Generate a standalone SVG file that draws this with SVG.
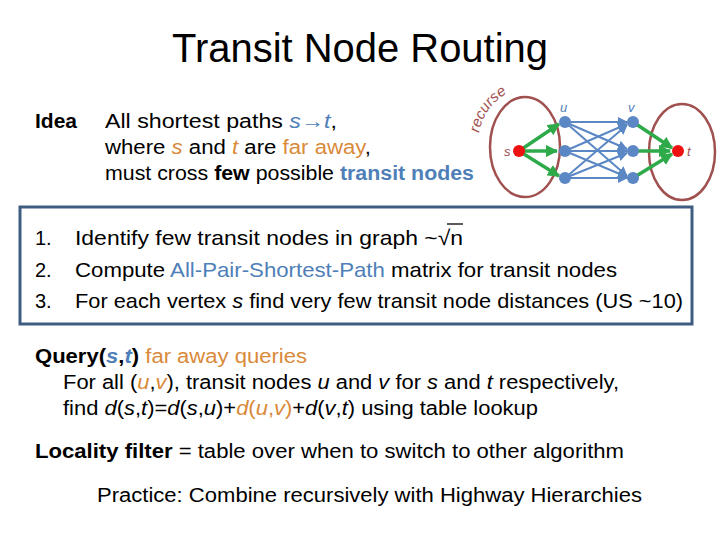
<svg xmlns="http://www.w3.org/2000/svg" width="720" height="540" viewBox="0 0 720 540">
<style>
text{font-family:"Liberation Sans","DejaVu Sans",sans-serif;fill:#000}
.b{fill:#4f7fb8}.o{fill:#d98a3a}.r{fill:#a0504f}
.e{fill:none;stroke:#a0504f;stroke-width:2.5}
.bl{stroke:#5b87c5;stroke-width:2}
.g{stroke:#2eaa4a;stroke-width:3.5}
</style>
<defs>
<marker id="ab" viewBox="0 0 10 10" refX="9" refY="5" markerWidth="5" markerHeight="5" orient="auto"><path d="M0,0L10,5L0,10z" fill="#5b87c5"/></marker>
<marker id="ag" viewBox="0 0 10 10" refX="9" refY="5" markerWidth="3.5" markerHeight="3.5" orient="auto"><path d="M0,0L10,5L0,10z" fill="#2eaa4a"/></marker>
<path id="arc" d="M479,133 A52,56 0 0 1 525,88"/>
</defs>
<rect width="720" height="540" fill="#fff"/>
<text x="172" y="62" font-size="40" textLength="376" lengthAdjust="spacingAndGlyphs">Transit Node Routing</text>
<g id="idea">
<text x="35" y="128" font-size="20" font-weight="bold" textLength="42" lengthAdjust="spacingAndGlyphs">Idea</text>
<text x="105" y="128" font-size="20" textLength="232" lengthAdjust="spacingAndGlyphs">All shortest paths <tspan class="b" font-style="italic">s→t</tspan>,</text>
<text x="105" y="154" font-size="20" textLength="266" lengthAdjust="spacingAndGlyphs">where <tspan class="o" font-style="italic">s</tspan> and <tspan class="o" font-style="italic">t</tspan> are <tspan class="o">far away</tspan>,</text>
<text x="105" y="180" font-size="20" textLength="369" lengthAdjust="spacingAndGlyphs">must cross <tspan font-weight="bold">few</tspan> possible <tspan class="b" font-weight="bold">transit nodes</tspan></text>
</g>
<g id="graph">
<ellipse class="e" cx="525" cy="147" rx="35" ry="50"/>
<ellipse class="e" cx="682" cy="152" rx="33" ry="48"/>
<text class="r" font-size="15" font-style="italic"><textPath href="#arc">recurse</textPath></text>
<g id="connectors">
<g class="bl" marker-end="url(#ab)">
<line x1="565" y1="122" x2="627" y2="122"/><line x1="565" y1="122" x2="627" y2="149"/><line x1="565" y1="122" x2="627" y2="176"/>
<line x1="565" y1="151" x2="627" y2="124"/><line x1="565" y1="151" x2="627" y2="151"/><line x1="565" y1="151" x2="627" y2="177"/>
<line x1="565" y1="178" x2="627" y2="125"/><line x1="565" y1="178" x2="627" y2="153"/><line x1="565" y1="178" x2="627" y2="178"/>
</g>
<g class="g" marker-end="url(#ag)">
<line x1="519" y1="151" x2="559" y2="124"/><line x1="519" y1="151" x2="557" y2="151"/><line x1="519" y1="151" x2="559" y2="176"/>
<line x1="633" y1="122" x2="672" y2="148"/><line x1="633" y1="151" x2="670" y2="151"/><line x1="633" y1="178" x2="672" y2="154"/>
</g>
</g>
<g fill="#5b87c5"><circle cx="565" cy="122" r="6"/><circle cx="565" cy="151" r="6"/><circle cx="565" cy="178" r="6"/><circle cx="633" cy="122" r="6"/><circle cx="633" cy="151" r="6"/><circle cx="633" cy="178" r="6"/></g>
<circle cx="519" cy="151" r="6" fill="#ee1111"/><circle cx="678" cy="151" r="6" fill="#ee1111"/>
<text class="r" x="504" y="156" font-size="13" font-style="italic">s</text>
<text class="r" x="687" y="156" font-size="13" font-style="italic">t</text>
<text class="b" x="560" y="112" font-size="13" font-style="italic">u</text>
<text class="b" x="628" y="112" font-size="13" font-style="italic">v</text>
</g>
<g id="steps">
<rect x="20" y="207" width="672" height="117" fill="#fff" stroke="#3f5d80" stroke-width="3"/>
<text x="35" y="245" font-size="20">1.</text><text x="35" y="277" font-size="20">2.</text><text x="35" y="308" font-size="20">3.</text>
<text x="75" y="245" font-size="21" textLength="388" lengthAdjust="spacingAndGlyphs">Identify few transit nodes in graph ~√n</text>
<line x1="447" y1="224" x2="463" y2="224" stroke="#000" stroke-width="1.3"/>
<text x="75" y="277" font-size="21" textLength="542" lengthAdjust="spacingAndGlyphs">Compute <tspan class="b">All-Pair-Shortest-Path</tspan> matrix for transit nodes</text>
<text x="75" y="308" font-size="21" textLength="608" lengthAdjust="spacingAndGlyphs">For each vertex <tspan font-style="italic">s</tspan> find very few transit node distances (US ~10)</text>
</g>
<g id="query">
<text x="35" y="363" font-size="20" textLength="272" lengthAdjust="spacingAndGlyphs"><tspan font-weight="bold">Query(<tspan class="b" font-style="italic">s</tspan>,<tspan class="b" font-style="italic">t</tspan>)</tspan>  <tspan class="o">far away queries</tspan></text>
<text x="63" y="389" font-size="20" textLength="556" lengthAdjust="spacingAndGlyphs">For all (<tspan class="o" font-style="italic">u</tspan>,<tspan class="o" font-style="italic">v</tspan>), transit nodes <tspan font-style="italic">u</tspan> and <tspan font-style="italic">v</tspan> for <tspan font-style="italic">s</tspan> and <tspan font-style="italic">t</tspan> respectively,</text>
<text x="63" y="415" font-size="20" textLength="475" lengthAdjust="spacingAndGlyphs">find <tspan font-style="italic">d</tspan>(<tspan font-style="italic">s</tspan>,<tspan font-style="italic">t</tspan>)=<tspan font-style="italic">d</tspan>(<tspan font-style="italic">s</tspan>,<tspan font-style="italic">u</tspan>)+<tspan class="o"><tspan font-style="italic">d</tspan>(<tspan font-style="italic">u</tspan>,<tspan font-style="italic">v</tspan>)</tspan>+<tspan font-style="italic">d</tspan>(<tspan font-style="italic">v</tspan>,<tspan font-style="italic">t</tspan>) using table lookup</text>
</g>
<text x="35" y="458" font-size="20" textLength="589" lengthAdjust="spacingAndGlyphs"><tspan font-weight="bold">Locality filter</tspan> = table over when to switch to other algorithm</text>
<text x="97" y="502" font-size="20" textLength="545" lengthAdjust="spacingAndGlyphs">Practice:  Combine recursively with Highway Hierarchies</text>
</svg>
